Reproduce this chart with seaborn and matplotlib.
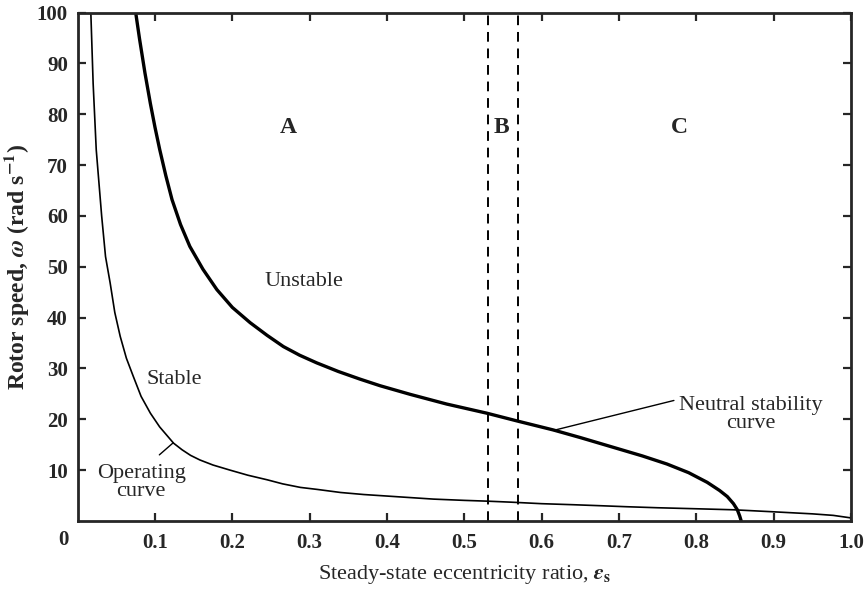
import matplotlib
matplotlib.use("Agg")
import matplotlib.pyplot as plt
import seaborn as sns
import pandas as pd

# ---- data ----
op_eps = [0.017, 0.020, 0.024, 0.031, 0.036, 0.042, 0.048, 0.055, 0.063, 0.072,
          0.082, 0.094, 0.106, 0.115, 0.124, 0.135, 0.146, 0.158, 0.175, 0.197,
          0.220, 0.245, 0.265, 0.288, 0.31, 0.34, 0.37, 0.40, 0.43, 0.46,
          0.50, 0.529, 0.56, 0.60, 0.64, 0.676, 0.71, 0.75, 0.80, 0.848,
          0.90, 0.95, 0.977, 1.0]
op_omega = [100, 86, 73, 60, 52, 46.8, 41, 36.3, 32, 28.4,
            24.5, 21.2, 18.5, 16.9, 15.3, 14.0, 12.9, 12.0, 11.0, 10.0,
            9.0, 8.1, 7.3, 6.6, 6.2, 5.6, 5.2, 4.9, 4.6, 4.3,
            4.05, 3.9, 3.7, 3.4, 3.2, 3.0, 2.8, 2.6, 2.4, 2.2,
            1.8, 1.4, 1.1, 0.6]

ns_eps = [0.075, 0.080, 0.087, 0.094, 0.100, 0.106, 0.114, 0.122, 0.133, 0.145,
          0.162, 0.180, 0.200, 0.223, 0.245, 0.266, 0.287, 0.309, 0.337, 0.365,
          0.391, 0.43, 0.477, 0.529, 0.570, 0.615, 0.65, 0.69, 0.73, 0.762,
          0.79, 0.814, 0.830, 0.840, 0.848, 0.853, 0.856, 0.858]
ns_omega = [100, 94.8, 88.1, 82.1, 77.4, 73.1, 67.9, 63.2, 58.3, 54,
            49.5, 45.5, 42, 39, 36.5, 34.3, 32.6, 31.1, 29.4, 27.9,
            26.6, 24.9, 23.0, 21.2, 19.6, 17.9, 16.4, 14.6, 12.8, 11.2,
            9.5, 7.6, 6.0, 4.8, 3.4, 2.2, 1.0, 0.0]

boundaries = [0.53, 0.57]
region_labels = ["A", "B", "C"]
region_eps = [0.272, 0.548, 0.778]

x_ticks = [0.1, 0.2, 0.3, 0.4, 0.5, 0.6, 0.7, 0.8, 0.9, 1.0]
y_ticks = [10, 20, 30, 40, 50, 60, 70, 80, 90, 100]

sns.set_style("ticks")
plt.rcParams["font.family"] = ["Liberation Serif", "DejaVu Serif"]
plt.rcParams["mathtext.fontset"] = "stix"

fig = plt.figure(figsize=(8.66, 5.90), dpi=100)
ax = fig.add_axes([0.0897, 0.117, 0.8930, 0.8618])

op_df = pd.DataFrame({"eps": op_eps, "omega": op_omega})
ns_df = pd.DataFrame({"eps": ns_eps, "omega": ns_omega})

sns.lineplot(data=op_df, x="eps", y="omega", ax=ax, color="black", lw=1.2,
             estimator=None, sort=False)
sns.lineplot(data=ns_df, x="eps", y="omega", ax=ax, color="black", lw=2.4,
             estimator=None, sort=False)

for b in boundaries:
    ax.axvline(b, color="black", lw=1.4, ls=(0, (5, 3.5)))

ax.set_xlim(0, 1.0)
ax.set_ylim(0, 100)
ax.set_xticks(x_ticks)
ax.set_xticklabels([f"{t:.1f}" for t in x_ticks])
ax.set_yticks(y_ticks)
ax.set_yticklabels([str(t) for t in y_ticks])
ax.tick_params(direction="in", length=6, width=1.6, top=True, right=True,
               labelsize=15)
ax.tick_params(axis="x", pad=9)
ax.tick_params(axis="y", pad=7)
for lab in ax.get_xticklabels() + ax.get_yticklabels():
    lab.set_fontweight("bold")
for sp in ax.spines.values():
    sp.set_visible(True)
    sp.set_linewidth(2.0)

ax.text(-0.019, -3.7, "0", ha="center", va="center", fontsize=15,
        fontweight="bold", clip_on=False)

ax.set_xlabel(r"Steady-state eccentricity ratio, $\boldsymbol{\epsilon}_\mathbf{s}$",
              fontsize=16, labelpad=7)
ax.set_ylabel(r"Rotor speed, $\boldsymbol{\omega}$ (rad s$^{\mathbf{-1}}$)",
              fontsize=17, fontweight="bold", labelpad=4)

for lab, e in zip(region_labels, region_eps):
    ax.text(e, 77.4, lab, ha="center", va="center", fontsize=17,
            fontweight="bold")

ax.text(0.292, 47, "Unstable", ha="center", va="center", fontsize=16)
ax.text(0.125, 27.8, "Stable", ha="center", va="center", fontsize=16)
ax.text(0.082, 7.5, "Operating\ncurve", ha="center", va="center",
        fontsize=16, linespacing=0.95)
ax.plot([0.1056, 0.1237], [13.0, 15.4], color="black", lw=1.0)
ax.text(0.871, 21, "Neutral stability\ncurve", ha="center", va="center",
        fontsize=16, linespacing=0.95)
ax.plot([0.771, 0.615], [23.7, 17.8], color="black", lw=1.0)

fig.savefig("out.png", dpi=100)
